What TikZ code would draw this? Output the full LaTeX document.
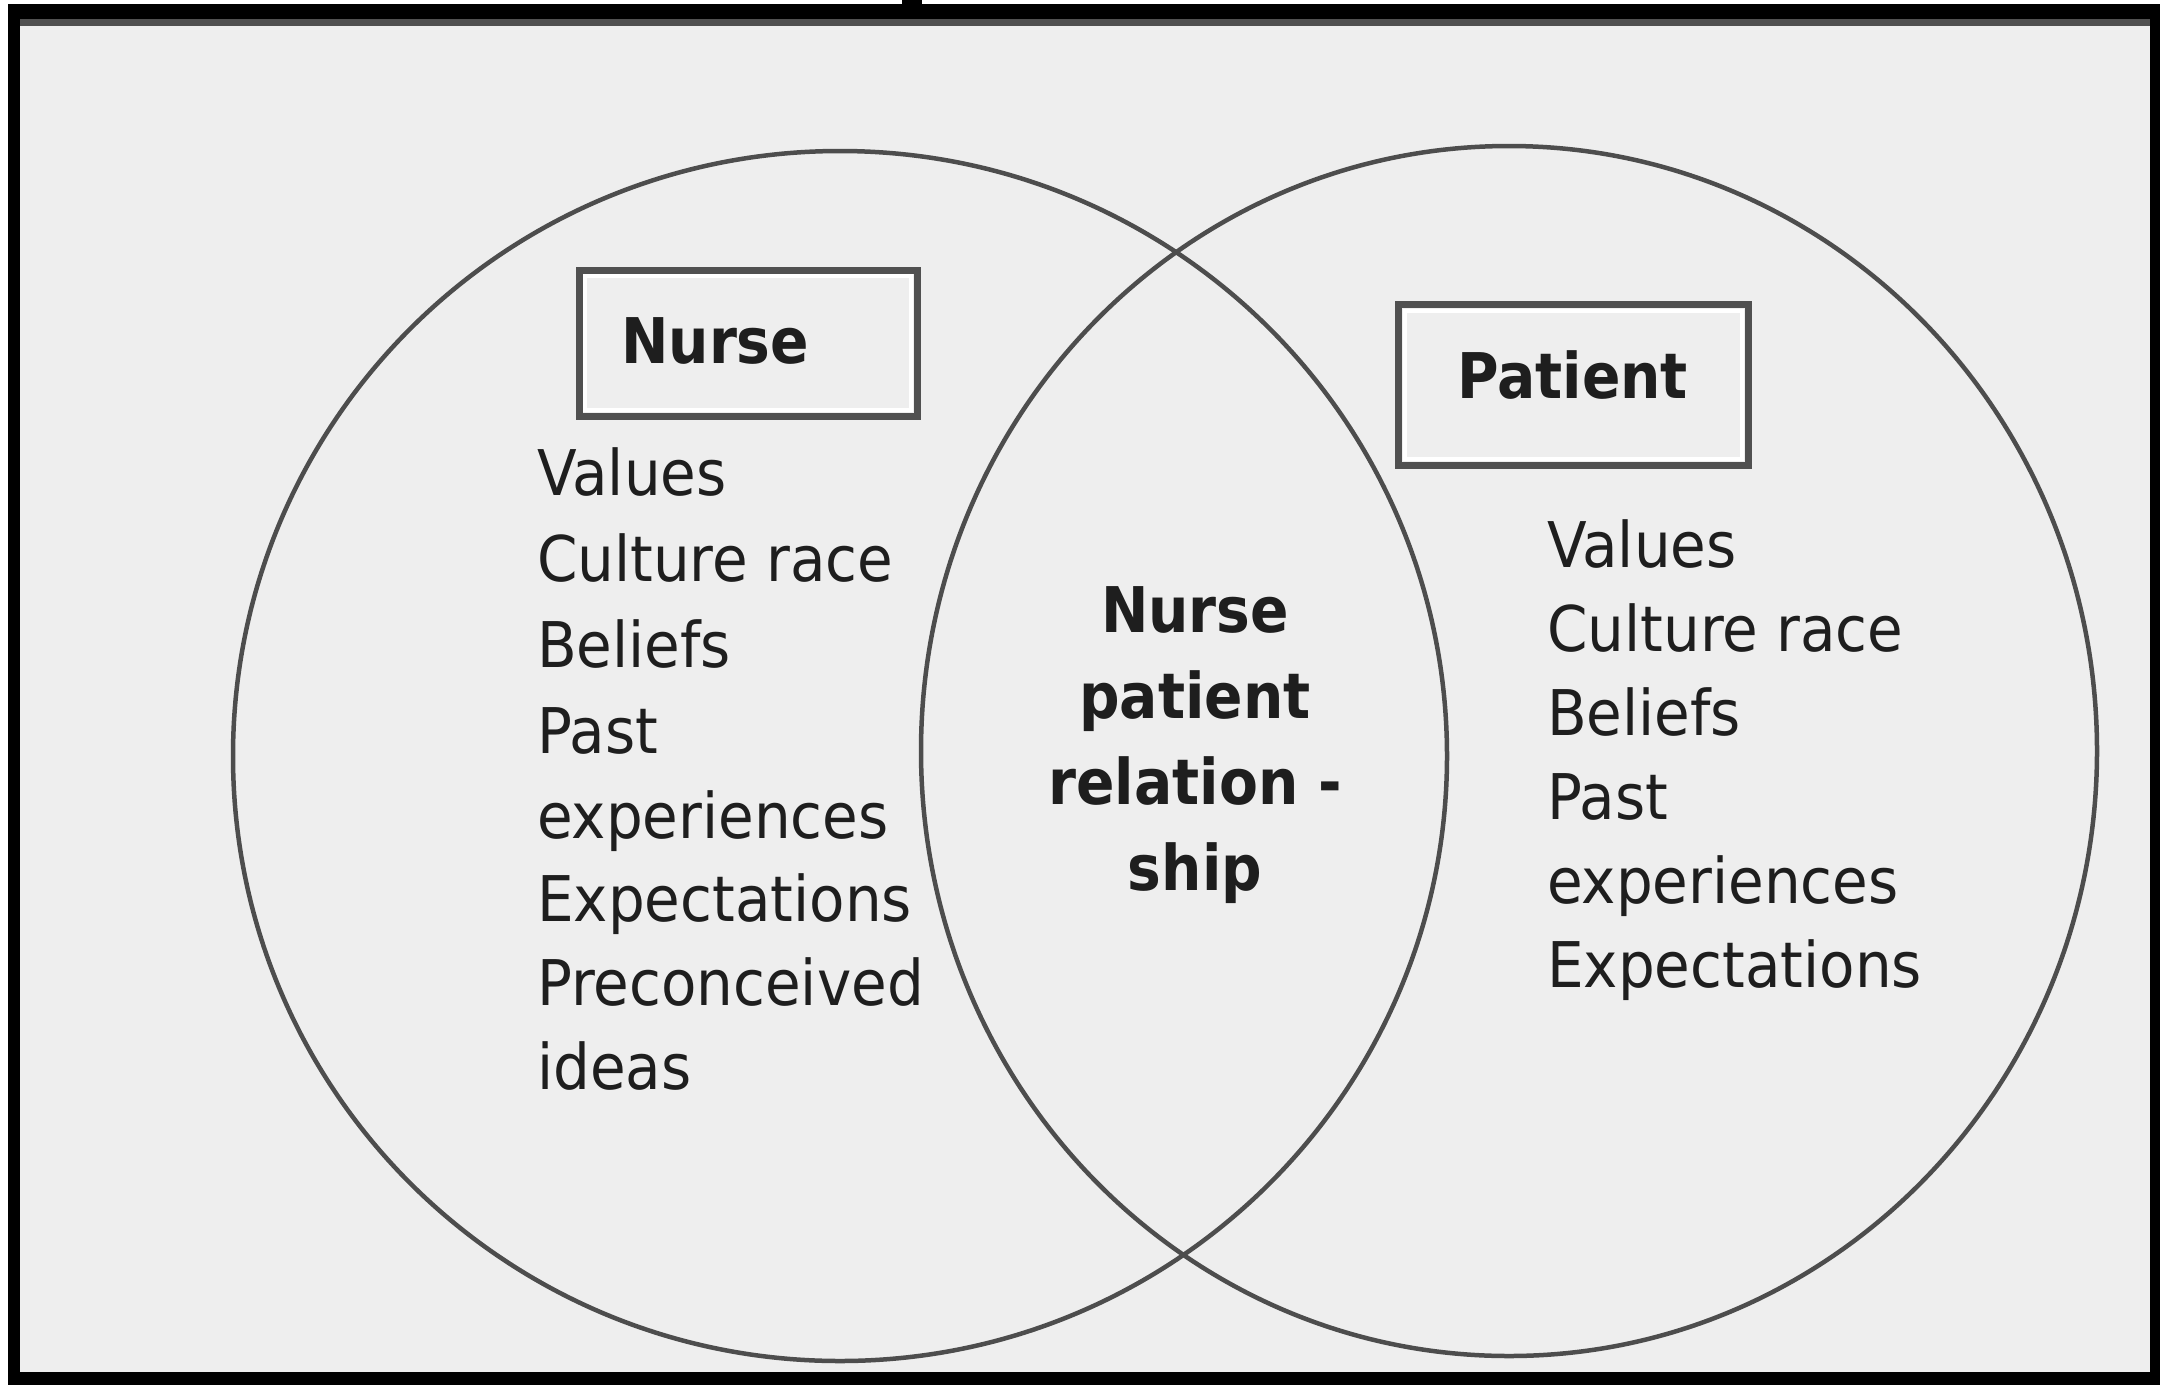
\documentclass[tikz,border=0pt]{standalone}
\usepackage{fontspec}
\setmainfont{DejaVu Sans}[FakeStretch=0.92,BoldFeatures={FakeStretch=0.9}]
\definecolor{bgc}{HTML}{EEEEEE}
\definecolor{linec}{HTML}{4D4D4D}
\definecolor{boxc}{HTML}{505050}
\definecolor{txtc}{HTML}{1E1E1E}
\tikzset{
  ring/.style={draw=linec, line width=4.5pt},
  boxouter/.style={draw=boxc, line width=7pt},
  boxinner/.style={draw=white, line width=4pt},
  listtext/.style={anchor=base west, inner sep=0pt, text=txtc, font=\fontsize{63}{84}\selectfont},
  boldtext/.style={anchor=base west, inner sep=0pt, text=txtc, font=\fontsize{63}{84}\selectfont\bfseries},
  midtext/.style={anchor=base, inner sep=0pt, text=txtc, font=\fontsize{63}{84}\selectfont\bfseries}
}
\begin{document}
\begin{tikzpicture}[x=1pt,y=-1pt]
\useasboundingbox (0,0) rectangle (2160,1385);
% frame
\fill[white] (0,0) rectangle (2160,1385);
\fill[black] (8,4) rectangle (2160,1385);
\fill[black] (902,0) rectangle (922,6);
\fill[bgc] (20,19) rectangle (2150,1372);
\fill[boxc] (20,19) rectangle (2150,26);
% circles
\draw[ring] (840,756) ellipse [x radius=607pt, y radius=605pt];
\draw[ring] (1509,751) ellipse [x radius=588pt, y radius=605pt];
% Nurse box
\draw[boxouter] (579,270) rectangle (917,416);
\draw[boxinner] (585,276) rectangle (911,410);
\node[boldtext] (nurse) at (621,363) {Nurse};
% Patient box
\draw[boxouter] (1398.5,304.5) rectangle (1748.5,465.5);
\draw[boxinner] (1405,311) rectangle (1742,459);
\node[boldtext] (patient) at (1457,398) {Patient};
% left list
\node[listtext] (l1) at (537,495) {Values};
\node[listtext] (l2) at (537,581) {Culture race};
\node[listtext] (l3) at (537,667) {Beliefs};
\node[listtext] (l4) at (537,753) {Past};
\node[listtext] (l5) at (537,838) {experiences};
\node[listtext] (l6) at (537,921) {Expectations};
\node[listtext] (l7) at (537,1005) {Preconceived};
\node[listtext] (l8) at (537,1089) {ideas};
% right list
\node[listtext] (r1) at (1547,567) {Values};
\node[listtext] (r2) at (1547,651) {Culture race};
\node[listtext] (r3) at (1547,735) {Beliefs};
\node[listtext] (r4) at (1547,819) {Past};
\node[listtext] (r5) at (1547,903) {experiences};
\node[listtext] (r6) at (1547,987) {Expectations};
% middle
\node[midtext] (m1) at (1195,632) {Nurse};
\node[midtext] (m2) at (1195,718) {patient};
\node[midtext] (m3) at (1195,804) {relation -};
\node[midtext] (m4) at (1195,890) {ship};
\end{tikzpicture}
\end{document}
